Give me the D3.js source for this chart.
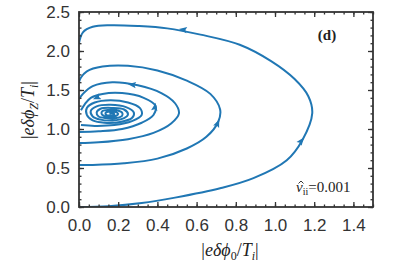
<!DOCTYPE html>
<html>
<head>
<meta charset="utf-8">
<script src="https://cdn.jsdelivr.net/npm/d3@7"></script>
<style>
  body { margin: 0; background: #fff; }
  svg { display: block; }
  .tick text { font-family: "Liberation Sans", Arial, sans-serif; font-size: 17px; fill: #333; }
  .math { font-family: "Liberation Serif", "Times New Roman", serif; fill: #222; }
</style>
</head>
<body>
<div id="chart"></div>
<script>
// axis ticks
var xTicks = [0, 0.2, 0.4, 0.6, 0.8, 1.0, 1.2, 1.4];
var yTicks = [0, 0.5, 1.0, 1.5, 2.0, 2.5];
var xMinor = d3.range(0, 1.501, 0.05);
var yMinor = d3.range(0, 2.501, 0.1);

// trajectory pieces ([|e dphi0/Ti|, |e dphiZ/Ti|])
var loop1 = [[0.0,0.0],[0.15,0.01],[0.32,0.05],[0.49,0.12],[0.72,0.24],[0.89,0.37],[1.06,0.6],[1.14,0.86],
  [1.19,1.2],[1.17,1.42],[1.1,1.64],[0.98,1.87],[0.82,2.08],[0.62,2.21],[0.45,2.29],[0.3,2.32],[0.16,2.33],
  [0.07,2.31],[0.02,2.24],[0.0,2.1]];
var loop2 = [[0.0,0.54],[0.07,0.54],[0.23,0.56],[0.4,0.62],[0.55,0.75],[0.65,0.9],[0.71,1.09],[0.72,1.25],
  [0.67,1.45],[0.55,1.62],[0.4,1.75],[0.25,1.81],[0.12,1.8],[0.04,1.74],[0.01,1.66],[0.0,1.6]];
var loop3 = [[0.0,0.82],[0.1,0.83],[0.25,0.87],[0.38,0.95],[0.47,1.07],[0.51,1.2],[0.49,1.33],[0.42,1.46],
  [0.3,1.56],[0.17,1.6],[0.07,1.55],[0.02,1.45],[0.0,1.38]];
var loop4 = [[0.0,0.96],[0.1,0.97],[0.22,1.0],[0.32,1.08],[0.38,1.18],[0.39,1.3],[0.33,1.4],[0.22,1.46],
  [0.12,1.45],[0.06,1.4],[0.03,1.32],[0.01,1.24]];
var spiral = [[0.01,1.05],[0.08,1.04],[0.18,1.05],[0.27,1.1],[0.32,1.18],[0.31,1.27],[0.25,1.34],[0.16,1.37],
  [0.08,1.34],[0.04,1.27],[0.04,1.18],[0.07,1.11],[0.13,1.08],[0.21,1.09],[0.27,1.14],[0.28,1.21],[0.24,1.28],
  [0.16,1.31],[0.09,1.29],[0.06,1.23],[0.07,1.16],[0.11,1.12],[0.17,1.11],[0.23,1.14],[0.25,1.19],[0.23,1.25],
  [0.17,1.27],[0.11,1.26],[0.09,1.21],[0.1,1.16],[0.14,1.14],[0.19,1.14],[0.22,1.17],[0.22,1.21],[0.19,1.24],
  [0.15,1.245],[0.12,1.23],[0.115,1.195],[0.13,1.165],[0.16,1.16],[0.19,1.17],[0.2,1.195],[0.185,1.22],
  [0.155,1.225],[0.135,1.205],[0.14,1.18],[0.16,1.175],[0.18,1.19],[0.17,1.205],[0.155,1.2]];
var loops = [loop1, loop2, loop3, loop4, spiral];

// arrows: [from, to] along the flow
var arrows = [
  [[0.56,2.265],[0.50,2.285]],
  [[1.12,0.80],[1.15,0.90]],
  [[0.70,1.03],[0.715,1.12]],
  [[0.30,1.56],[0.24,1.575]],
  [[0.385,1.25],[0.39,1.32]],
  [[0.11,1.42],[0.07,1.38]]
];

var W = 407, H = 268;
var m = {left: 79, right: 34, top: 12, bottom: 61};
var w = W - m.left - m.right, h = H - m.top - m.bottom;
var blue = "#2077b4", ink = "#333";

var svg = d3.select("#chart").append("svg").attr("width", W).attr("height", H);
var g = svg.append("g").attr("transform", "translate(" + m.left + "," + m.top + ")");

var x = d3.scaleLinear().domain([0, 1.5]).range([0, w]);
var y = d3.scaleLinear().domain([0, 2.5]).range([h, 0]);

var line = d3.line().x(function(d){return x(d[0]);}).y(function(d){return y(d[1]);})
  .curve(d3.curveCatmullRom.alpha(0.5));

svg.append("clipPath").attr("id", "clip").append("rect")
  .attr("width", w).attr("height", h);

g.append("g").attr("clip-path", "url(#clip)").selectAll("path.traj")
  .data(loops).enter().append("path")
  .attr("class", "traj")
  .attr("d", line)
  .attr("fill", "none")
  .attr("stroke", blue)
  .attr("stroke-width", 2)
  .attr("stroke-linejoin", "round");

g.selectAll("path.arrow").data(arrows).enter().append("path")
  .attr("class", "arrow")
  .attr("d", "M4,0L-4,-3.2L-2.5,0L-4,3.2Z")
  .attr("fill", blue)
  .attr("transform", function(d) {
    var x0 = x(d[0][0]), y0 = y(d[0][1]), x1 = x(d[1][0]), y1 = y(d[1][1]);
    var a = Math.atan2(y1 - y0, x1 - x0) * 180 / Math.PI;
    return "translate(" + ((x0 + x1) / 2) + "," + ((y0 + y1) / 2) + ") rotate(" + a + ")";
  });

// axes: inward ticks, mirrored on top and right
function fmt(d) { return d.toFixed(1); }
function styleAxis(sel) {
  sel.select(".domain").remove();
  sel.selectAll(".tick line").attr("stroke", ink).attr("stroke-width", 1.3);
}
g.append("g").attr("transform", "translate(0," + h + ")")
  .call(d3.axisBottom(x).tickValues(xMinor).tickSize(-2.5).tickFormat("")).call(styleAxis);
g.append("g").attr("transform", "translate(0," + h + ")")
  .call(d3.axisBottom(x).tickValues(xTicks).tickSize(-5).tickPadding(12).tickFormat(fmt)).call(styleAxis);
g.append("g")
  .call(d3.axisTop(x).tickValues(xMinor).tickSize(-2.5).tickFormat("")).call(styleAxis);
g.append("g")
  .call(d3.axisTop(x).tickValues(xTicks).tickSize(-5).tickFormat("")).call(styleAxis);
g.append("g")
  .call(d3.axisLeft(y).tickValues(yMinor).tickSize(-2.5).tickFormat("")).call(styleAxis);
g.append("g")
  .call(d3.axisLeft(y).tickValues(yTicks).tickSize(-5).tickPadding(9).tickFormat(fmt)).call(styleAxis);
g.append("g").attr("transform", "translate(" + w + ",0)")
  .call(d3.axisRight(y).tickValues(yMinor).tickSize(-2.5).tickFormat("")).call(styleAxis);
g.append("g").attr("transform", "translate(" + w + ",0)")
  .call(d3.axisRight(y).tickValues(yTicks).tickSize(-5).tickFormat("")).call(styleAxis);

g.selectAll(".tick text").attr("fill", ink);

g.append("rect").attr("width", w).attr("height", h)
  .attr("fill", "none").attr("stroke", ink).attr("stroke-width", 1.8);

// axis titles
function mathLabel(sel, sub, subItalic) {
  sel.append("tspan").text("|");
  sel.append("tspan").attr("font-style", "italic").text("e\u03B4\u03D5");
  sel.append("tspan").attr("font-size", "12px").attr("dy", 4)
    .attr("font-style", subItalic ? "italic" : "normal").text(sub);
  sel.append("tspan").attr("dy", -4).text("/");
  sel.append("tspan").attr("font-style", "italic").text("T");
  sel.append("tspan").attr("font-style", "italic").attr("font-size", "12px").attr("dy", 4).text("i");
  sel.append("tspan").attr("dy", -4).text("|");
}
svg.append("text").attr("class", "math")
  .attr("x", 230).attr("y", 256).attr("text-anchor", "middle").attr("font-size", "18px")
  .call(mathLabel, "0", false);
svg.append("text").attr("class", "math")
  .attr("transform", "translate(34,110) rotate(-90)").attr("text-anchor", "middle").attr("font-size", "18px")
  .call(mathLabel, "Z", true);

svg.append("text").attr("class", "math")
  .attr("x", 327).attr("y", 40).attr("text-anchor", "middle")
  .attr("font-size", "15px").attr("font-weight", "bold").text("(d)");

var nu = svg.append("text").attr("class", "math")
  .attr("x", 296).attr("y", 192).attr("font-size", "15px");
nu.append("tspan").attr("font-style", "italic").text("\u03BD");
nu.append("tspan").attr("font-size", "10px").attr("dy", 3).text("ii");
nu.append("tspan").attr("dy", -3).text("=0.001");
// hat over nu
svg.append("path").attr("d", "M298.5,183.5L301,181L303.5,183.5")
  .attr("fill", "none").attr("stroke", "#222").attr("stroke-width", 0.9);
</script>
</body>
</html>
